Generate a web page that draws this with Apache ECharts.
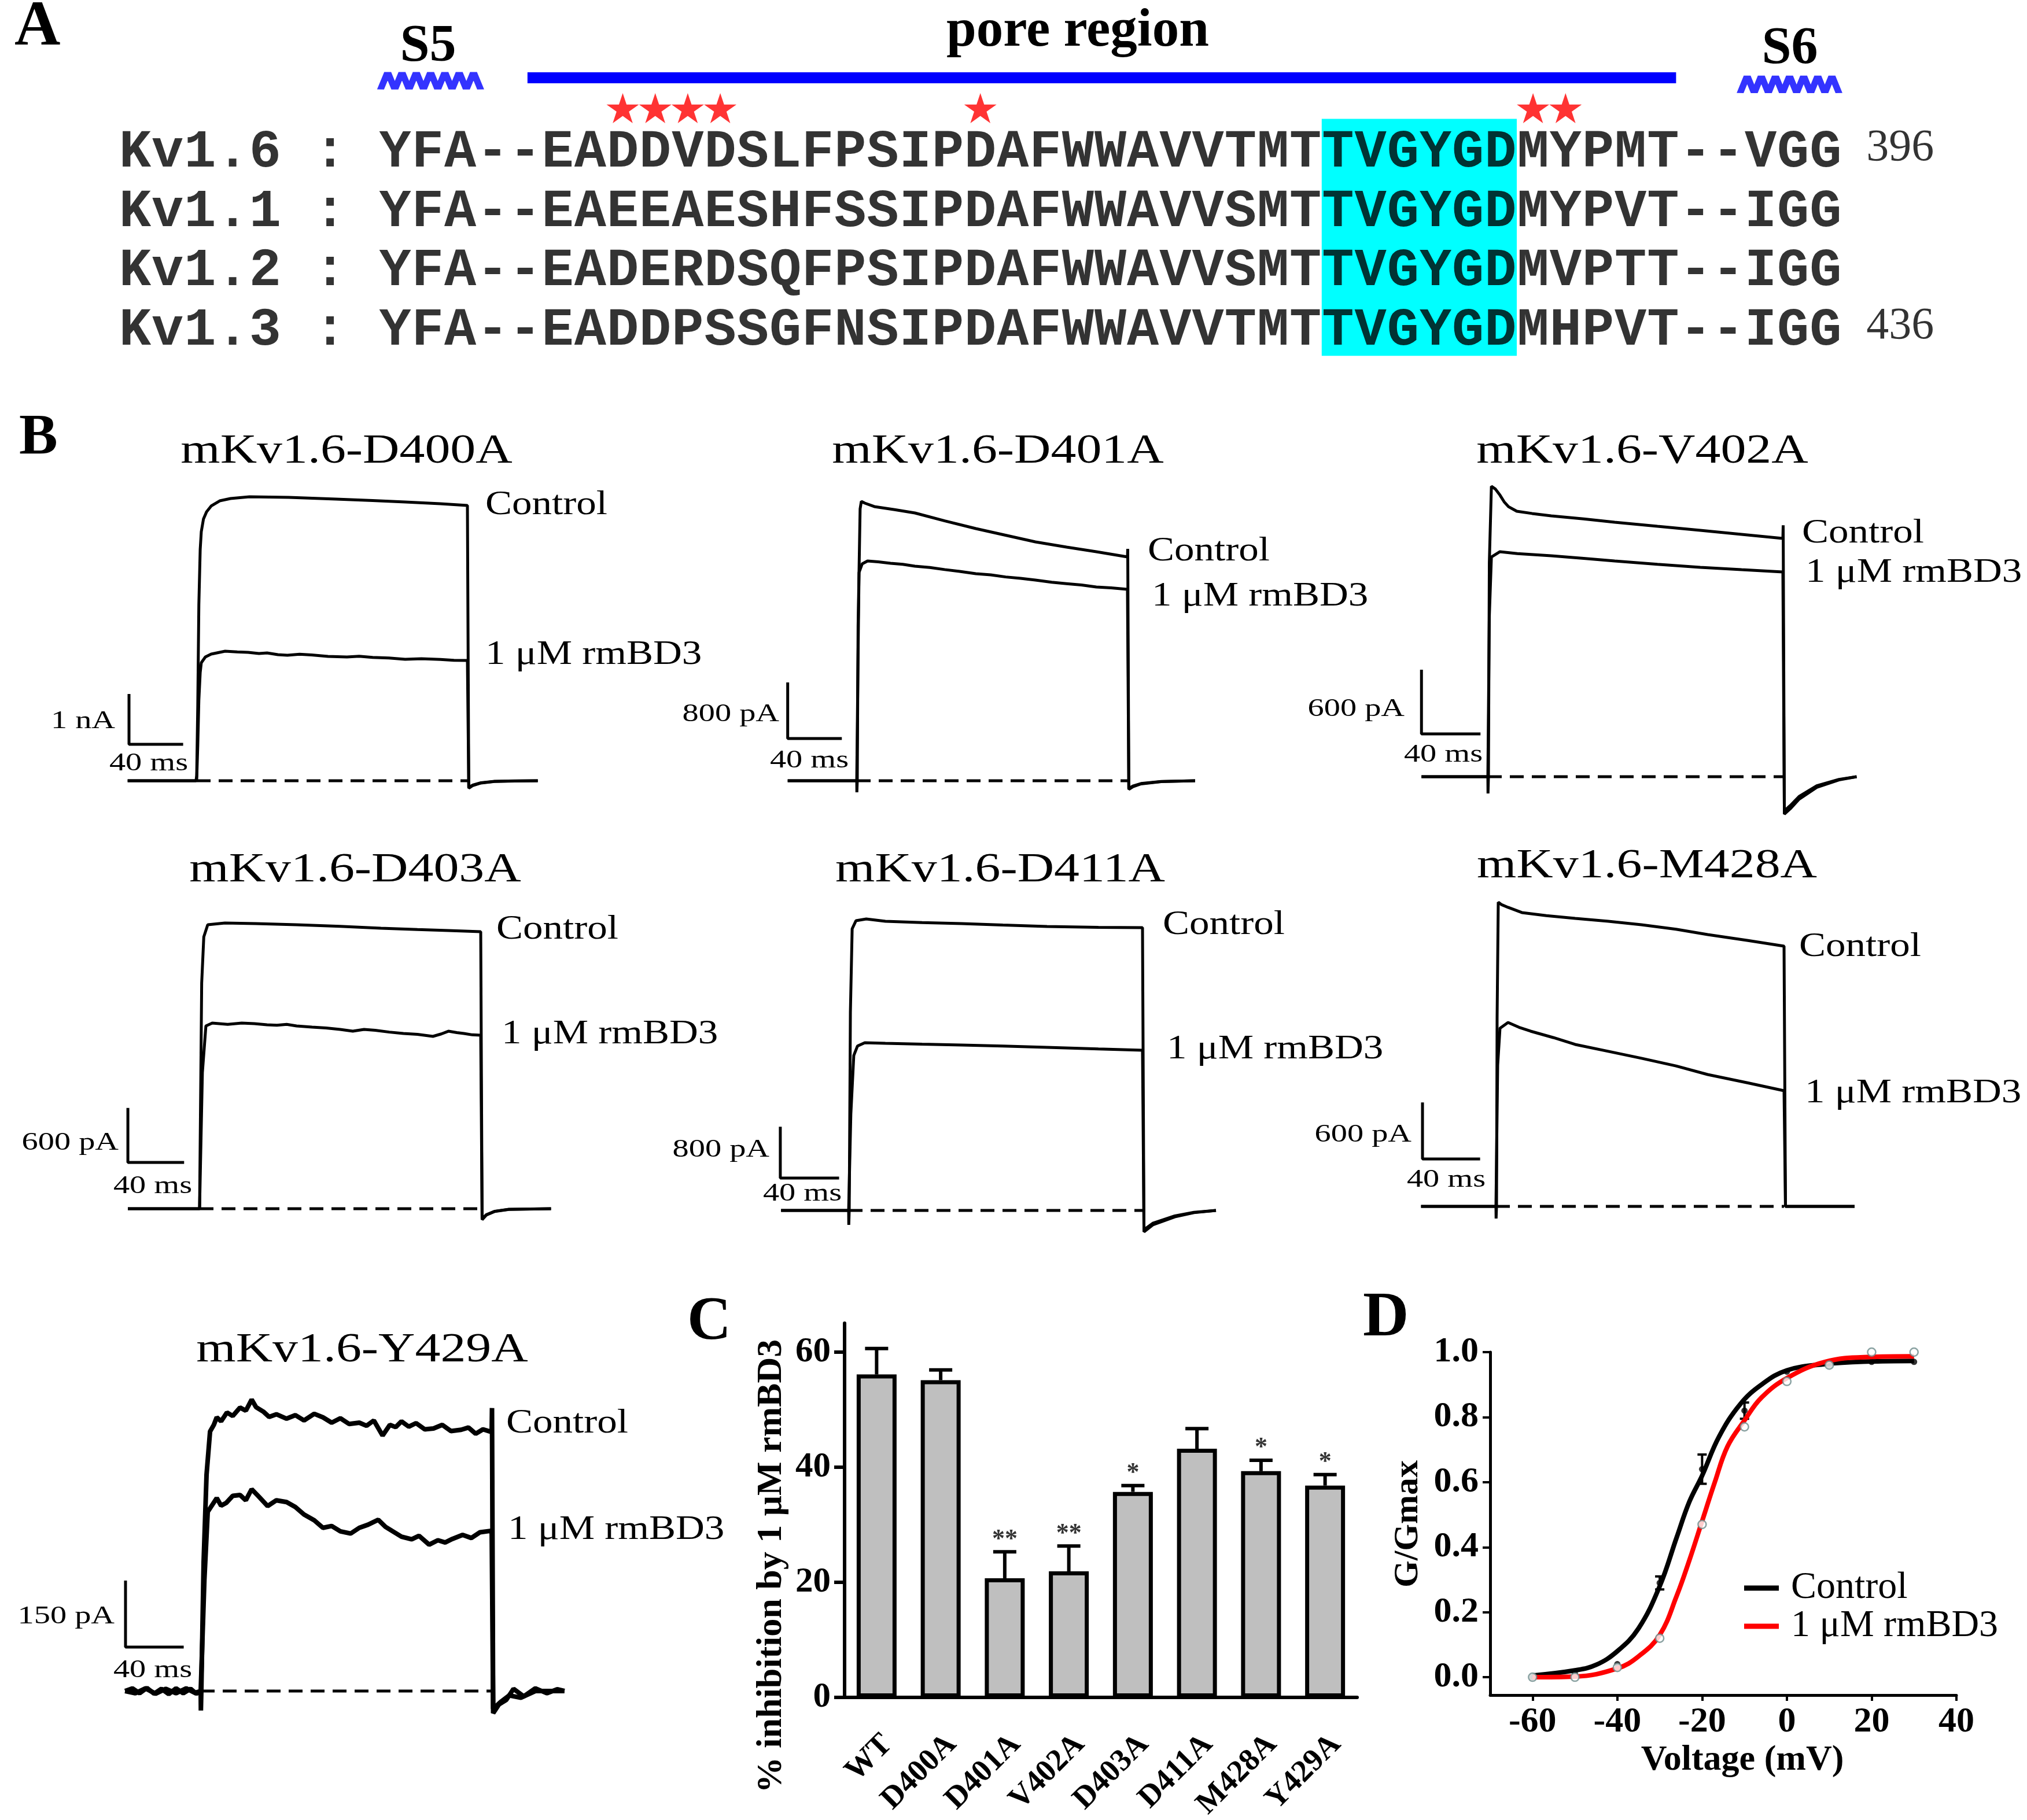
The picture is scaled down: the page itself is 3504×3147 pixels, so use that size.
<!DOCTYPE html>
<html>
<head>
<meta charset="utf-8">
<title>rmBD3 on mKv1.6 pore mutants</title>
<script src="https://cdn.jsdelivr.net/npm/echarts@6.0.0/dist/echarts.min.js"></script>
<style>
  html, body { margin: 0; padding: 0; background: #fff; }
  #fig { width: 3504px; height: 3147px; }
</style>
</head>
<body>
<div id="fig"></div>
<script>
// ---------- A: alignment of the pore region ----------
var seqNames = ['Kv1.6', 'Kv1.1', 'Kv1.2', 'Kv1.3'];
var seqs = [
  'YFA--EADDVDSLFPSIPDAFWWAVVTMTTVGYGDMYPMT--VGG',
  'YFA--EAEEAESHFSSIPDAFWWAVVSMTTVGYGDMYPVT--IGG',
  'YFA--EADERDSQFPSIPDAFWWAVVSMTTVGYGDMVPTT--IGG',
  'YFA--EADDPSSGFNSIPDAFWWAVVTMTTVGYGDMHPVT--IGG'
];
var seqEnds = ['396', '', '', '436'];
var mutatedCols = [7, 8, 9, 10, 18, 35, 36];   // D400 D401 V402 D403 D411 M428 Y429
var filterCols = [29, 35];                     // TVGYGD
var poreCols = [4.57, 39.9];
var s5Cols = [0.05, 3.13];
var s6Cols = [41.87, 44.91];

// ---------- B: current traces, [ms, pA] ----------
var mutants = ['mKv1.6-D400A', 'mKv1.6-D401A', 'mKv1.6-V402A', 'mKv1.6-D403A',
               'mKv1.6-D411A', 'mKv1.6-M428A', 'mKv1.6-Y429A'];
var pulseMs = 200;
var barMs = 40;
var barPA = [1000, 800, 600, 600, 800, 600, 150];
var barText = ['1 nA', '800 pA', '600 pA', '600 pA', '800 pA', '600 pA', '150 pA'];

var d400aCtrl = [[-51,0],[-0.5,0],[0,100],[0.8,1500],[1.6,3500],[2.6,4600],[3.4,4950],[5,5200],[7.3,5345],[10.7,5460],[17,5563],[25,5609],[39,5644],[68,5632],[103,5598],[130,5570],[154,5540],[180,5505],[200,5471],[201,-150],[204,-95],[210,-45],[220,-15],[235,-5],[252,0]];
var d400aTox = [[-51,0],[0,0],[0.8,700],[1.6,1600],[2.6,2150],[3.4,2345],[6.4,2460],[10.7,2517],[21,2575],[30,2560],[38,2552],[46,2530],[52,2540],[60,2505],[67,2494],[76,2515],[85,2500],[97,2470],[111,2460],[120,2475],[130,2450],[142,2440],[154,2414],[166,2425],[180,2410],[190,2395],[200,2391],[201,-130],[204,-85],[210,-40],[220,-12],[235,-4],[252,0]];

var d401aCtrl = [[-51,0],[0,0],[0.1,-165],[0.4,0],[1,2200],[2.5,3875],[3.4,3982],[6,3957],[13,3908],[28,3865],[43,3817],[65,3705],[88,3594],[110,3500],[132,3405],[155,3330],[177,3265],[200,3190],[200.2,3305],[201,-124],[204,-85],[210,-45],[225,-12],[250,0]];
var d401aTox = [[-51,0],[0,0],[1,1800],[1.7,2968],[4,3091],[8,3133],[16,3120],[25,3100],[34,3085],[43,3059],[54,3040],[65,3010],[76,2985],[88,2951],[99,2935],[110,2905],[121,2885],[132,2861],[144,2830],[155,2810],[166,2790],[177,2762],[188,2750],[200,2729],[201,-110],[204,-75],[210,-40],[225,-10],[250,0]];

var v402aCtrl = [[-45,0],[0,0],[0.1,-157],[0.4,0],[1,2000],[2.4,2714],[5,2690],[8.2,2632],[11,2570],[14,2524],[19.6,2481],[30,2460],[43,2438],[65,2410],[86,2378],[115,2340],[144,2303],[172,2265],[200,2227],[200.2,2350],[201,-350],[205,-300],[211,-210],[223,-100],[238,-30],[250,0]];
var v402aTox = [[-45,0],[0,0],[1,1500],[2.4,2054],[8.2,2103],[20,2085],[43,2065],[65,2040],[86,2016],[115,1985],[144,1957],[172,1935],[200,1914],[201,-320],[205,-270],[211,-185],[223,-85],[238,-25],[250,0]];

var d403aCtrl = [[-51,0],[0,0],[1.5,2484],[3,2994],[5.8,3127],[18,3146],[40,3140],[69,3127],[100,3110],[129,3089],[155,3075],[177,3064],[200,3051],[201,-121],[204,-70],[210,-30],[220,-8],[250,0]];
var d403aTox = [[-51,0],[0,0],[2,1500],[4.5,2013],[9,2045],[20,2030],[30,2045],[39,2038],[48,2025],[55,2020],[62,2030],[69,2013],[80,2000],[90,1990],[100,1975],[109,1955],[117,1975],[125,1965],[135,1945],[145,1930],[155,1920],[166,1898],[172,1925],[177,1955],[183,1940],[188,1930],[194,1915],[200,1911],[201,-110],[204,-65],[210,-28],[220,-6],[250,0]];

var d411aCtrl = [[-46,0],[0,0],[0.1,-225],[0.4,0],[1.2,3090],[2.4,4387],[5,4514],[12,4541],[25,4505],[50,4485],[77,4468],[105,4445],[135,4423],[170,4410],[200,4405],[201,-333],[207,-225],[222,-100],[235,-35],[250,0]];
var d411aTox = [[-46,0],[0,0],[1.5,1500],[3.5,2414],[6,2560],[11,2613],[25,2604],[50,2590],[77,2577],[105,2560],[135,2541],[170,2515],[200,2495],[201,-300],[207,-200],[222,-85],[235,-30],[250,0]];

var m428aCtrl = [[-52,0],[0,0],[0.1,-129],[0.4,0],[0.8,2000],[1.6,3227],[4,3200],[8.4,3172],[18,3117],[35,3085],[55,3055],[78,3025],[101,2988],[125,2940],[147,2883],[175,2820],[200,2761],[201,0],[249,0]];
var m428aTox = [[-52,0],[0,0],[1.2,1500],[2.8,1890],[8.4,1951],[16,1900],[24,1859],[40,1790],[55,1718],[78,1645],[101,1571],[125,1490],[147,1399],[175,1310],[200,1227],[201,0],[249,0]];

var y429aCtrl = [[-52,0],[-47,6],[-42,-5],[-37,7],[-32,-6],[-27,5],[-22,-7],[-17,6],[-12,-5],[-7,5],[-3,-6],[0,0],[0.1,-44],[0.4,0],[2,292],[4,488],[6.4,585],[9,600],[11,617],[14,608],[18,628],[22,620],[27,639],[31,632],[35,657],[38,640],[43,630],[47,618],[52,624],[59,614],[65,622],[71,610],[78,625],[84,617],[90,605],[96,615],[102,602],[109,605],[114,598],[119,610],[125,576],[130,600],[134,595],[138,608],[143,596],[148,604],[154,590],[160,592],[166,600],[172,586],[179,589],[184,594],[189,580],[194,590],[199,585],[200,585],[200.2,638],[201,-50],[205,-30],[210,-20],[215,5],[222,-12],[230,6],[238,-5],[245,4],[250,0]];
var y429aTox = [[-52,0],[-45,-5],[-38,6],[-31,-6],[-24,5],[-17,-5],[-10,6],[-4,-4],[0,0],[2.5,250],[4.8,404],[8,420],[11,435],[14,418],[17.5,424],[22,440],[27,442],[31,430],[35,455],[40,438],[46,417],[52,430],[59,426],[65,415],[71,398],[78,385],[84,368],[90,372],[96,360],[103,355],[109,368],[115,375],[122,386],[127,370],[132,360],[138,348],[145,342],[150,350],[157,330],[163,340],[168,335],[173,343],[180,352],[186,345],[192,358],[199,361],[200,361],[201,-40],[206,-25],[212,-10],[220,-15],[230,0],[250,0]];

var traceCtrl = [d400aCtrl, d401aCtrl, v402aCtrl, d403aCtrl, d411aCtrl, m428aCtrl, y429aCtrl];
var traceTox = [d400aTox, d401aTox, v402aTox, d403aTox, d411aTox, m428aTox, y429aTox];

// ---------- C: % inhibition by 1 uM rmBD3 ----------
var cats = ['WT', 'D400A', 'D401A', 'V402A', 'D403A', 'D411A', 'M428A', 'Y429A'];
var inhib = [56.1, 55.1, 20.7, 21.9, 35.7, 43.2, 39.3, 36.8];
var sem = [4.5, 1.8, 4.6, 4.4, 1.1, 3.5, 1.9, 1.9];
var sig = ['', '', '**', '**', '*', '', '*', '*'];

// ---------- D: G/Gmax vs voltage ----------
var volts = [-60, -50, -40, -30, -20, -10, 0, 10, 20, 30];
var ctrlG = [0.00, 0.01, 0.04, 0.29, 0.64, 0.82, 0.94, 0.96, 0.97, 0.97];
var ctrlErr = [0, 0, 0, 0.02, 0.045, 0.025, 0, 0, 0, 0];
var toxG = [0.00, 0.00, 0.03, 0.12, 0.47, 0.77, 0.91, 0.96, 1.00, 1.00];
var ctrlFitV = [-60, -50, -45, -40, -35, -30, -26, -23, -20, -16, -11, -6, 0, 9, 19, 30];
var ctrlFitG = [0.005, 0.021, 0.038, 0.08, 0.15, 0.28, 0.43, 0.54, 0.62, 0.74, 0.84, 0.90, 0.944, 0.963, 0.971, 0.973];
var toxFitV = [-60, -50, -40, -35, -30, -26, -23, -20, -17, -14, -10, -6, 0, 9, 19, 30];
var toxFitG = [0.0, 0.002, 0.027, 0.064, 0.13, 0.25, 0.36, 0.48, 0.60, 0.71, 0.79, 0.86, 0.92, 0.97, 0.985, 0.987];

// ---------- layout ----------
var SERIF = '"Liberation Serif", "Times New Roman", serif';
var MONO = '"Liberation Mono", "Courier New", monospace';
var CH = 56.2;            // one alignment column
var BAR_ROW = -1.19, S5_ROW = -1.14, S6_ROW = -1.08, STAR_ROW = -0.68;

var traceLayout = [
  {on: 340,  pxMs: 2.34,  base: 1350, pxPA: 0.087,  yMin: -300, yMax: 6500, bar: [-50, 724],   title: [599, 781],  iLab: [199, 1247],  tLab: [257, 1320],  cLab: [839, 873],   xLab: [839, 1132],  w: 5},
  {on: 1481, pxMs: 2.34,  base: 1350, pxPA: 0.1213, yMin: -300, yMax: 4600, bar: [-51, 602],   title: [1725, 781], iLab: [1347, 1235], tLab: [1399, 1315], cLab: [1984, 953],  xLab: [1991, 1031], w: 5},
  {on: 2572, pxMs: 2.55,  base: 1343, pxPA: 0.185,  yMin: -500, yMax: 3200, bar: [-45, 400],   title: [2839, 781], iLab: [2428, 1226], tLab: [2495, 1305], cLab: [3115, 922],  xLab: [3121, 990],  w: 5},
  {on: 345,  pxMs: 2.43,  base: 2090, pxPA: 0.157,  yMin: -400, yMax: 3600, bar: [-51, 510],   title: [614, 1505], iLab: [205, 1976],  tLab: [264, 2051],  cLab: [858, 1607],  xLab: [867, 1788],  w: 5},
  {on: 1467, pxMs: 2.54,  base: 2093, pxPA: 0.111,  yMin: -500, yMax: 5000, bar: [-46.5, 505], title: [1729, 1505], iLab: [1330, 1988], tLab: [1387, 2064], cLab: [2010, 1599], xLab: [2017, 1814], w: 5},
  {on: 2586, pxMs: 2.49,  base: 2086, pxPA: 0.163,  yMin: -400, yMax: 3600, bar: [-51, 503],   title: [2847, 1498], iLab: [2440, 1962], tLab: [2500, 2040], cLab: [3110, 1637], xLab: [3120, 1890], w: 5},
  {on: 347,  pxMs: 2.515, base: 2924, pxPA: 0.767,  yMin: -100, yMax: 700,  bar: [-51.7, 99],  title: [626, 2335], iLab: [198, 2795],  tLab: [264, 2888],  cLab: [875, 2461],  xLab: [878, 2645],  w: 8}
];

function txt(x, y, s, size, align, opt) {
  opt = opt || {};
  return {
    type: 'text', x: x, y: y, rotation: opt.rot || 0, scaleX: opt.sx || 1, silent: true,
    style: {
      text: s, x: 0, y: 0, fill: '#000',
      fontSize: size, fontFamily: opt.font || SERIF, fontWeight: opt.bold ? 'bold' : 'normal',
      textAlign: align, textVerticalAlign: 'middle', align: align, verticalAlign: 'middle'
    }
  };
}

var grids = [], xAxes = [], yAxes = [], series = [], graphics = [];

function addGrid(g, xa, ya) {
  var i = grids.length;
  g.outerBoundsMode = 'none';
  grids.push(g);
  xa.gridIndex = i; ya.gridIndex = i;
  xAxes.push(xa); yAxes.push(ya);
  return i;
}

// ---- panel A ----
var gA = addGrid({left: 655 - 8 * CH, top: 0, width: 58 * CH, height: 616.2},
  {type: 'value', min: -8, max: 50, show: false},
  {type: 'value', min: -2.5, max: 3.5, inverse: true, show: false});

series.push({
  type: 'line', xAxisIndex: gA, yAxisIndex: gA, z: 1, silent: true, symbol: 'none',
  data: [[poreCols[0], BAR_ROW], [poreCols[1], BAR_ROW]],
  lineStyle: {color: '#0000ff', width: 19},
  markArea: {
    silent: true, itemStyle: {color: '#00ffff', opacity: 1},
    data: [[{coord: [filterCols[0], -0.5]}, {coord: [filterCols[1], 3.49]}]]
  }
});

var zig = 'path://M0,10L5,0L10,10L15,0L20,10L25,0L30,10L35,0L40,10L45,0L50,10L55,0L60,10L65,0L70,10';
series.push({
  type: 'scatter', xAxisIndex: gA, yAxisIndex: gA, z: 2, silent: true, symbol: zig,
  itemStyle: {color: 'rgba(0,0,0,0)', borderColor: '#0000ff', borderWidth: 5},
  data: [
    {value: [(s5Cols[0] + s5Cols[1]) / 2, S5_ROW], symbolSize: [(s5Cols[1] - s5Cols[0]) * CH, 30]},
    {value: [(s6Cols[0] + s6Cols[1]) / 2, S6_ROW], symbolSize: [(s6Cols[1] - s6Cols[0]) * CH, 30]}
  ]
});

series.push({
  type: 'scatter', xAxisIndex: gA, yAxisIndex: gA, z: 2, silent: true,
  symbol: 'path://M50,0L61.2,34.5L97.6,34.5L68.2,55.9L79.4,90.5L50,69.1L20.6,90.5L31.8,55.9L2.4,34.5L38.8,34.5Z',
  symbolSize: [56, 52], itemStyle: {color: '#ff0000'},
  data: mutatedCols.map(function (c) { return [c + 0.5, STAR_ROW]; })
});

var seqChars = [];
seqNames.forEach(function (nm, r) {
  var line = nm + ' : ' + seqs[r];
  for (var i = 0; i < line.length; i++) {
    if (line.charAt(i) !== ' ') seqChars.push({name: line.charAt(i), value: [i - 8 + 0.5, r]});
  }
});
series.push({
  type: 'scatter', xAxisIndex: gA, yAxisIndex: gA, z: 5, silent: true,
  symbolSize: 1, itemStyle: {color: 'rgba(0,0,0,0)'}, data: seqChars,
  label: {show: true, position: 'inside', formatter: '{b}', offset: [0, 8],
          fontFamily: MONO, fontWeight: 'bold', fontSize: 92, color: '#000'}
});
series.push({
  type: 'scatter', xAxisIndex: gA, yAxisIndex: gA, z: 5, silent: true,
  symbolSize: 1, itemStyle: {color: 'rgba(0,0,0,0)'},
  data: seqEnds.map(function (s, r) { return {name: s, value: [45.75, r]}; }),
  label: {show: true, position: 'inside', align: 'left', formatter: '{b}',
          fontFamily: SERIF, fontSize: 78, color: '#000'}
});

graphics.push(txt(25, 49, 'A', 110, 'left', {bold: true}));
graphics.push(txt(740, 81, 'S5', 92, 'center', {bold: true}));
graphics.push(txt(3094, 85, 'S6', 92, 'center', {bold: true}));
graphics.push(txt(1863, 55, 'pore region', 93, 'center', {bold: true}));

// ---- panel B ----
graphics.push(txt(33, 758, 'B', 100, 'left', {bold: true}));
traceLayout.forEach(function (L, k) {
  var g = addGrid({left: L.on - 60 * L.pxMs, width: 320 * L.pxMs,
                   top: L.base - L.yMax * L.pxPA, height: (L.yMax - L.yMin) * L.pxPA},
    {type: 'value', min: -60, max: 260, show: false},
    {type: 'value', min: L.yMin, max: L.yMax, show: false});
  function line(data, w, dash) {
    return {type: 'line', xAxisIndex: g, yAxisIndex: g, data: data, symbol: 'none', silent: true, z: 3,
            lineStyle: {color: '#000', width: w, type: dash || 'solid'}};
  }
  series.push(line([[0, 0], [pulseMs, 0]], 5, [24, 14]));
  series.push(line(traceTox[k], L.w));
  series.push(line(traceCtrl[k], L.w));
  series.push(line([[L.bar[0], L.bar[1] + barPA[k]], [L.bar[0], L.bar[1]], [L.bar[0] + barMs, L.bar[1]]], 5));

  graphics.push(txt(L.title[0], L.title[1], mutants[k], 72, 'center', {sx: 1.22}));
  graphics.push(txt(L.iLab[0], L.iLab[1], barText[k], 44, 'right', {sx: 1.28}));
  graphics.push(txt(L.tLab[0], L.tLab[1], barMs + ' ms', 44, 'center', {sx: 1.28}));
  graphics.push(txt(L.cLab[0], L.cLab[1], 'Control', 60, 'left', {sx: 1.15}));
  graphics.push(txt(L.xLab[0], L.xLab[1], '1 μM rmBD3', 60, 'left', {sx: 1.15}));
});

// ---- panel C ----
var gC = addGrid({left: 1460, top: 2288, width: 886, height: 647},
  {type: 'category', data: cats,
   axisLine: {lineStyle: {color: '#000', width: 6}},
   axisTick: {alignWithLabel: true, length: 20, lineStyle: {color: '#000', width: 6}},
   axisLabel: {interval: 0, rotate: 45, margin: 54, verticalAlign: 'top', color: '#000',
               fontFamily: SERIF, fontWeight: 'bold', fontSize: 54}},
  {type: 'value', min: 0, max: 65,
   axisLine: {show: true, onZero: false, lineStyle: {color: '#000', width: 6}},
   axisTick: {show: true, length: 18, customValues: [0, 20, 40, 60], lineStyle: {color: '#000', width: 6}},
   axisLabel: {customValues: [0, 20, 40, 60], margin: 24, color: '#000', fontFamily: SERIF, fontWeight: 'bold', fontSize: 61},
   splitLine: {show: false}});

series.push({type: 'bar', xAxisIndex: gC, yAxisIndex: gC, data: inhib, barWidth: 69, silent: true, z: 2,
             itemStyle: {color: '#bfbfbf', borderColor: '#000', borderWidth: 7}});
series.push({
  type: 'custom', xAxisIndex: gC, yAxisIndex: gC, silent: true, z: 3,
  data: inhib.map(function (v, i) { return [i, v, sem[i]]; }),
  renderItem: function (params, api) {
    var p0 = api.coord([api.value(0), api.value(1)]);
    var p1 = api.coord([api.value(0), api.value(1) + api.value(2)]);
    var st = {stroke: '#000', lineWidth: 6};
    return {type: 'group', children: [
      {type: 'line', shape: {x1: p0[0], y1: p0[1], x2: p1[0], y2: p1[1]}, style: st},
      {type: 'line', shape: {x1: p1[0] - 20, y1: p1[1], x2: p1[0] + 20, y2: p1[1]}, style: st}
    ]};
  }
});
series.push({
  type: 'scatter', xAxisIndex: gC, yAxisIndex: gC, silent: true, z: 4,
  symbolSize: 1, itemStyle: {color: 'rgba(0,0,0,0)'},
  data: inhib.map(function (v, i) { return [i, v + sem[i]]; }),
  label: {show: true, position: 'inside', offset: [0, -21], color: '#000',
          formatter: function (p) { return sig[p.dataIndex]; },
          fontFamily: SERIF, fontWeight: 'bold', fontSize: 44}
});
graphics.push(txt(1188, 2288, 'C', 105, 'left', {bold: true}));
graphics.push(txt(1334, 2708, '% inhibition by 1 μM rmBD3', 62, 'center', {bold: true, rot: Math.PI / 2}));

// ---- panel D ----
var gD = addGrid({left: 2576, top: 2338, width: 806, height: 593},
  {type: 'value', min: -70, max: 40,
   axisLine: {show: true, onZero: false, lineStyle: {color: '#000', width: 5}},
   axisTick: {show: true, length: 10, customValues: [-60, -40, -20, 0, 20, 40], lineStyle: {color: '#000', width: 4}},
   axisLabel: {customValues: [-60, -40, -20, 0, 20, 40], margin: 16, color: '#000', fontFamily: SERIF, fontWeight: 'bold', fontSize: 62},
   splitLine: {show: false}},
  {type: 'value', min: -0.055, max: 1.0,
   axisLine: {show: true, onZero: false, lineStyle: {color: '#000', width: 5}},
   axisTick: {show: true, length: 13, customValues: [0, 0.2, 0.4, 0.6, 0.8, 1.0], lineStyle: {color: '#000', width: 4}},
   axisLabel: {customValues: [0, 0.2, 0.4, 0.6, 0.8, 1.0], margin: 20, color: '#000', fontFamily: SERIF, fontWeight: 'bold', fontSize: 62,
               formatter: function (v) { return v.toFixed(1); }},
   splitLine: {show: false}});

series.push({type: 'scatter', xAxisIndex: gD, yAxisIndex: gD, silent: true, z: 2, symbolSize: 11,
             itemStyle: {color: '#000'},
             data: volts.map(function (v, i) { return [v, ctrlG[i]]; })});
series.push({
  type: 'custom', xAxisIndex: gD, yAxisIndex: gD, silent: true, z: 2,
  data: volts.map(function (v, i) { return [v, ctrlG[i], ctrlErr[i]]; }).filter(function (d) { return d[2] > 0; }),
  renderItem: function (params, api) {
    var lo = api.coord([api.value(0), api.value(1) - api.value(2)]);
    var hi = api.coord([api.value(0), api.value(1) + api.value(2)]);
    var st = {stroke: '#000', lineWidth: 4};
    return {type: 'group', children: [
      {type: 'line', shape: {x1: lo[0], y1: lo[1], x2: hi[0], y2: hi[1]}, style: st},
      {type: 'line', shape: {x1: hi[0] - 8, y1: hi[1], x2: hi[0] + 8, y2: hi[1]}, style: st},
      {type: 'line', shape: {x1: lo[0] - 8, y1: lo[1], x2: lo[0] + 8, y2: lo[1]}, style: st}
    ]};
  }
});
series.push({name: 'Control', type: 'line', xAxisIndex: gD, yAxisIndex: gD, silent: true, z: 3,
             symbol: 'none', smooth: 0.4, color: '#000', lineStyle: {color: '#000', width: 8},
             data: ctrlFitV.map(function (v, i) { return [v, ctrlFitG[i]]; })});
series.push({name: '1 μM rmBD3', type: 'line', xAxisIndex: gD, yAxisIndex: gD, silent: true, z: 3,
             symbol: 'none', smooth: 0.4, color: '#ff0000', lineStyle: {color: '#ff0000', width: 8},
             data: toxFitV.map(function (v, i) { return [v, toxFitG[i]]; })});
series.push({type: 'scatter', xAxisIndex: gD, yAxisIndex: gD, silent: true, z: 4, symbolSize: 14,
             itemStyle: {color: '#fff', borderColor: '#6d8b8b', borderWidth: 2.5},
             data: volts.map(function (v, i) { return [v, toxG[i]]; })});

graphics.push(txt(2356, 2281, 'D', 110, 'left', {bold: true}));
graphics.push(txt(2434, 2635, 'G/Gmax', 60, 'center', {bold: true, rot: Math.PI / 2}));
graphics.push(txt(3012, 3044, 'Voltage (mV)', 62, 'center', {bold: true}));

var chart = echarts.init(document.getElementById('fig'));
chart.setOption({
  animation: false,
  backgroundColor: '#fff',
  textStyle: {fontFamily: SERIF},
  grid: grids,
  xAxis: xAxes,
  yAxis: yAxes,
  series: series,
  graphic: graphics,
  legend: {
    data: ['Control', '1 μM rmBD3'], left: 3015, top: 2713, orient: 'vertical',
    itemGap: 0, padding: 0, icon: 'rect', itemWidth: 60, itemHeight: 9, selectedMode: false,
    textStyle: {fontFamily: SERIF, fontSize: 66, color: '#000', lineHeight: 56, padding: [0, 0, 0, 16]}
  }
});
</script>
</body>
</html>
